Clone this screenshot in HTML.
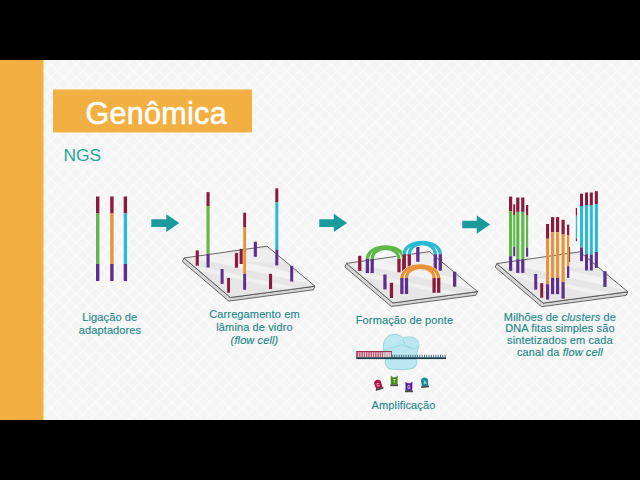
<!DOCTYPE html>
<html><head><meta charset="utf-8">
<style>
html,body{margin:0;padding:0;background:#000;}
body{width:640px;height:480px;overflow:hidden;position:relative;}
svg{position:absolute;left:0;top:0;}
text{font-family:"Liberation Sans",sans-serif;}
</style></head>
<body>
<svg width="640" height="480" viewBox="0 0 640 480">
<defs>
<pattern id="hatch" width="9" height="9" patternUnits="userSpaceOnUse" patternTransform="rotate(45)">
<rect width="9" height="9" fill="#f5f5f5"/>
<rect x="0" y="0" width="9" height="1.2" fill="#fbfbfb"/>
<rect x="0" y="0" width="1.2" height="9" fill="#fbfbfb"/>
</pattern>
</defs>
<rect x="0" y="0" width="640" height="480" fill="#000"/>
<rect x="0" y="60" width="640" height="360" fill="url(#hatch)"/>
<rect x="0" y="60" width="43.5" height="360" fill="#f1b041"/>
<rect x="53" y="89.5" width="199" height="43" fill="#f1b041"/>
<text x="85.5" y="123.7" font-size="30.5" letter-spacing="0.3" fill="#fff" stroke="#fff" stroke-width="0.55">Genômica</text>
<text x="63.5" y="161.1" font-size="17.4" fill="#26a69a">NGS</text>
<rect x="96.00" y="196.50" width="3.40" height="17.00" fill="#8c1a3c"/>
<rect x="96.00" y="213.50" width="3.40" height="50.50" fill="#5db847"/>
<rect x="96.00" y="264.00" width="3.40" height="17.00" fill="#5d2e8e"/>
<rect x="110.20" y="196.50" width="3.40" height="17.00" fill="#8c1a3c"/>
<rect x="110.20" y="213.50" width="3.40" height="50.50" fill="#e8923a"/>
<rect x="110.20" y="264.00" width="3.40" height="17.00" fill="#5d2e8e"/>
<rect x="123.70" y="196.50" width="3.40" height="17.00" fill="#8c1a3c"/>
<rect x="123.70" y="213.50" width="3.40" height="50.50" fill="#2bbad4"/>
<rect x="123.70" y="264.00" width="3.40" height="17.00" fill="#5d2e8e"/>
<polygon points="151.3,219.3 166.3,219.3 166.3,214.2 179.3,223.1 166.3,232 166.3,227 151.3,227" fill="#1b9a9e"/>
<polygon points="319.3,219.3 333.8,219.3 333.8,213.8 347,222.9 333.8,232 333.8,227 319.3,227" fill="#1b9a9e"/>
<polygon points="462.3,220.8 476.8,220.8 476.8,215.4 490.2,224.60000000000002 476.8,233.8 476.8,228.3 462.3,228.3" fill="#1b9a9e"/>
<polygon points="184.00,258.00 230.40,297.50 315.00,286.20 313.40,289.80 228.80,301.10 182.40,261.60" fill="#d6d6d6" stroke="#4d4d4d" stroke-width="0.85" stroke-linejoin="round"/>
<clipPath id="pc1"><polygon points="184.00,258.00 267.00,246.20 315.00,286.20 230.40,297.50"/></clipPath>
<polygon points="184.00,258.00 267.00,246.20 315.00,286.20 230.40,297.50" fill="#e6e6e6"/>
<g clip-path="url(#pc1)"><g transform="translate(0,0)">
<path d="M180,248 L300,250 L320,262 L180,262 Z" fill="#eeeeee"/>
<line x1="188" y1="253" x2="322" y2="283" stroke="#f2f2f2" stroke-width="7"/>
<line x1="200" y1="269" x2="322" y2="295" stroke="#f0f0f0" stroke-width="4"/>
</g></g>
<polygon points="184.00,258.00 267.00,246.20 315.00,286.20 230.40,297.50" fill="none" stroke="#4d4d4d" stroke-width="0.85" stroke-linejoin="round"/>
<rect x="253.80" y="241.70" width="3.10" height="15.10" fill="#5d2e8e"/>
<rect x="195.70" y="250.40" width="3.10" height="15.30" fill="#8c1a3c"/>
<rect x="239.60" y="249.00" width="3.10" height="15.00" fill="#8c1a3c"/>
<rect x="206.50" y="192.10" width="3.10" height="13.90" fill="#8c1a3c"/>
<rect x="206.50" y="206.00" width="3.10" height="48.00" fill="#5db847"/>
<rect x="206.50" y="254.00" width="3.10" height="13.50" fill="#5d2e8e"/>
<rect x="234.90" y="252.90" width="3.20" height="14.80" fill="#8c1a3c"/>
<rect x="275.30" y="188.30" width="3.00" height="14.20" fill="#8c1a3c"/>
<rect x="275.30" y="202.50" width="3.00" height="47.10" fill="#2bbad4"/>
<rect x="275.30" y="249.60" width="3.00" height="15.80" fill="#5d2e8e"/>
<rect x="220.60" y="269.00" width="3.00" height="14.80" fill="#5d2e8e"/>
<rect x="290.20" y="265.80" width="3.00" height="15.70" fill="#5d2e8e"/>
<rect x="269.00" y="273.80" width="3.10" height="15.20" fill="#8c1a3c"/>
<rect x="227.10" y="277.90" width="2.90" height="14.80" fill="#8c1a3c"/>
<rect x="243.20" y="212.70" width="2.90" height="14.80" fill="#8c1a3c"/>
<rect x="243.20" y="227.50" width="2.90" height="46.30" fill="#e8923a"/>
<rect x="243.20" y="273.80" width="2.90" height="16.00" fill="#5d2e8e"/>
<polygon points="346.50,263.40 392.90,302.90 477.50,291.60 475.90,295.20 391.30,306.50 344.90,267.00" fill="#d6d6d6" stroke="#4d4d4d" stroke-width="0.85" stroke-linejoin="round"/>
<clipPath id="pc2"><polygon points="346.50,263.40 429.50,251.60 477.50,291.60 392.90,302.90"/></clipPath>
<polygon points="346.50,263.40 429.50,251.60 477.50,291.60 392.90,302.90" fill="#e6e6e6"/>
<g clip-path="url(#pc2)"><g transform="translate(162.5,5.4)">
<path d="M180,248 L300,250 L320,262 L180,262 Z" fill="#eeeeee"/>
<line x1="188" y1="253" x2="322" y2="283" stroke="#f2f2f2" stroke-width="7"/>
<line x1="200" y1="269" x2="322" y2="295" stroke="#f0f0f0" stroke-width="4"/>
</g></g>
<polygon points="346.50,263.40 429.50,251.60 477.50,291.60 392.90,302.90" fill="none" stroke="#4d4d4d" stroke-width="0.85" stroke-linejoin="round"/>
<rect x="358.10" y="255.80" width="3.30" height="15.10" fill="#8c1a3c"/>
<rect x="416.20" y="247.00" width="3.30" height="14.80" fill="#5d2e8e"/>
<path d="M367.40,259.50 L367.40,259.00 C367.40,252.05 375.23,246.80 385.60,246.80 C395.97,246.80 403.80,252.05 403.80,259.00 L403.80,259.50" fill="none" stroke="#f6fbf6" stroke-width="4.3"/>
<path d="M372.20,259.50 L372.20,259.00 C372.20,252.96 377.96,248.40 385.60,248.40 C393.24,248.40 399.00,252.96 399.00,259.00 L399.00,259.50" fill="none" stroke="#f6fbf6" stroke-width="4.3"/>
<path d="M367.40,259.50 L367.40,259.00 C367.40,252.05 375.23,246.80 385.60,246.80 C395.97,246.80 403.80,252.05 403.80,259.00 L403.80,259.50" fill="none" stroke="#5db847" stroke-width="3.3"/>
<path d="M372.20,259.50 L372.20,259.00 C372.20,252.96 377.96,248.40 385.60,248.40 C393.24,248.40 399.00,252.96 399.00,259.00 L399.00,259.50" fill="none" stroke="#5db847" stroke-width="3.3"/>
<rect x="365.75" y="259.00" width="3.30" height="14.00" fill="#5d2e8e"/>
<rect x="402.15" y="259.00" width="3.30" height="13.30" fill="#8c1a3c"/>
<rect x="370.55" y="259.00" width="3.30" height="14.00" fill="#5d2e8e"/>
<rect x="397.35" y="259.00" width="3.30" height="13.30" fill="#8c1a3c"/>
<path d="M404.30,254.80 L404.30,254.30 C404.30,247.46 412.04,242.30 422.30,242.30 C432.56,242.30 440.30,247.46 440.30,254.30 L440.30,254.80" fill="none" stroke="#f6fbf6" stroke-width="4.3"/>
<path d="M409.30,254.80 L409.30,254.30 C409.30,248.26 414.89,243.70 422.30,243.70 C429.71,243.70 435.30,248.26 435.30,254.30 L435.30,254.80" fill="none" stroke="#f6fbf6" stroke-width="4.3"/>
<path d="M404.30,254.80 L404.30,254.30 C404.30,247.46 412.04,242.30 422.30,242.30 C432.56,242.30 440.30,247.46 440.30,254.30 L440.30,254.80" fill="none" stroke="#2bbad4" stroke-width="3.3"/>
<path d="M409.30,254.80 L409.30,254.30 C409.30,248.26 414.89,243.70 422.30,243.70 C429.71,243.70 435.30,248.26 435.30,254.30 L435.30,254.80" fill="none" stroke="#2bbad4" stroke-width="3.3"/>
<rect x="402.65" y="254.30" width="3.30" height="16.70" fill="#8c1a3c"/>
<rect x="438.65" y="254.30" width="3.30" height="16.40" fill="#5d2e8e"/>
<rect x="407.65" y="254.30" width="3.30" height="16.70" fill="#8c1a3c"/>
<rect x="433.65" y="254.30" width="3.30" height="16.40" fill="#5d2e8e"/>
<path d="M401.90,278.50 L401.90,278.00 C401.90,271.16 409.81,266.00 420.30,266.00 C430.79,266.00 438.70,271.16 438.70,278.00 L438.70,278.50" fill="none" stroke="#f6fbf6" stroke-width="4.3"/>
<path d="M406.50,278.50 L406.50,278.00 C406.50,271.96 412.43,267.40 420.30,267.40 C428.17,267.40 434.10,271.96 434.10,278.00 L434.10,278.50" fill="none" stroke="#f6fbf6" stroke-width="4.3"/>
<path d="M401.90,278.50 L401.90,278.00 C401.90,271.16 409.81,266.00 420.30,266.00 C430.79,266.00 438.70,271.16 438.70,278.00 L438.70,278.50" fill="none" stroke="#e8923a" stroke-width="3.3"/>
<path d="M406.50,278.50 L406.50,278.00 C406.50,271.96 412.43,267.40 420.30,267.40 C428.17,267.40 434.10,271.96 434.10,278.00 L434.10,278.50" fill="none" stroke="#e8923a" stroke-width="3.3"/>
<rect x="400.25" y="278.00" width="3.30" height="16.00" fill="#5d2e8e"/>
<rect x="437.05" y="278.00" width="3.30" height="14.80" fill="#8c1a3c"/>
<rect x="404.85" y="278.00" width="3.30" height="16.00" fill="#5d2e8e"/>
<rect x="432.45" y="278.00" width="3.30" height="14.80" fill="#8c1a3c"/>
<rect x="383.30" y="274.50" width="3.30" height="14.90" fill="#5d2e8e"/>
<rect x="389.80" y="282.80" width="3.30" height="15.20" fill="#8c1a3c"/>
<rect x="453.00" y="271.70" width="3.30" height="15.00" fill="#5d2e8e"/>
<path d="M383.8,351 C383,345 383.2,338.5 389.5,335.3 C395,333 400,334.8 403,338.3 C406,336.8 409.5,336.5 413,337.4 C418,338.8 419.5,343 418.6,347 C418.2,349.5 417.6,351 417,352.5 L416.6,357.6 L385,357.6 C384.2,355 383.9,353 383.8,351 Z" fill="#bae7ef" stroke="#88ccd9" stroke-width="0.8"/>
<path d="M386,358.9 L416,358.9 C417.6,362 417.2,367 412,368.6 C405,369.9 393,369.9 389,368.6 C385,367 384.5,362 386,358.9 Z" fill="#bae7ef" stroke="#88ccd9" stroke-width="0.8"/>
<path d="M403,338.5 C403.8,344.5 407.8,348.4 412.8,348.4 C415.6,348.4 417.6,347.6 418.4,346.2" fill="none" stroke="#95d3df" stroke-width="0.8"/>
<path d="M384.2,349.6 C390,348.3 397,346.8 402.2,344.6 C405,346.2 408,347.4 411.8,348.2" fill="none" stroke="#95d3df" stroke-width="0.8"/>
<path d="M386,340 C390,336 397,336 401,339 C397,343 390,346 385,347 Z" fill="#c0eaf2" opacity="0.8"/>
<g>
<rect x="356.60" y="351.30" width="26.90" height="6.20" fill="#bb5670"/>
<rect x="383.50" y="351.30" width="8.30" height="6.20" fill="#bb5670" opacity="0.5"/>
<rect x="358.30" y="352.30" width="0.85" height="5.20" fill="#fbeef0" opacity="0.95"/>
<rect x="360.58" y="352.30" width="0.85" height="5.20" fill="#fbeef0" opacity="0.95"/>
<rect x="362.86" y="352.30" width="0.85" height="5.20" fill="#fbeef0" opacity="0.95"/>
<rect x="365.14" y="352.30" width="0.85" height="5.20" fill="#fbeef0" opacity="0.95"/>
<rect x="367.42" y="352.30" width="0.85" height="5.20" fill="#fbeef0" opacity="0.95"/>
<rect x="369.70" y="352.30" width="0.85" height="5.20" fill="#fbeef0" opacity="0.95"/>
<rect x="371.98" y="352.30" width="0.85" height="5.20" fill="#fbeef0" opacity="0.95"/>
<rect x="374.26" y="352.30" width="0.85" height="5.20" fill="#fbeef0" opacity="0.95"/>
<rect x="376.54" y="352.30" width="0.85" height="5.20" fill="#fbeef0" opacity="0.95"/>
<rect x="378.82" y="352.30" width="0.85" height="5.20" fill="#fbeef0" opacity="0.95"/>
<rect x="381.10" y="352.30" width="0.85" height="5.20" fill="#fbeef0" opacity="0.95"/>
<rect x="383.38" y="352.30" width="0.85" height="5.20" fill="#fbeef0" opacity="0.95"/>
<rect x="385.66" y="352.30" width="0.85" height="5.20" fill="#fbeef0" opacity="0.95"/>
<rect x="387.94" y="352.30" width="0.85" height="5.20" fill="#fbeef0" opacity="0.95"/>
<rect x="390.22" y="352.30" width="0.85" height="5.20" fill="#fbeef0" opacity="0.95"/>
<rect x="356.60" y="351.00" width="35.20" height="1.00" fill="#973450"/>
<rect x="356.40" y="351.00" width="0.90" height="6.50" fill="#973450"/>
<rect x="391.20" y="351.00" width="0.80" height="6.50" fill="#973450"/>
</g>
<rect x="356.20" y="357.30" width="89.80" height="1.80" fill="#183c4c"/>
<rect x="391.80" y="354.80" width="0.90" height="3.00" fill="#2a5a6a"/>
<rect x="394.10" y="354.80" width="0.90" height="3.00" fill="#2a5a6a"/>
<rect x="396.40" y="354.80" width="0.90" height="3.00" fill="#2a5a6a"/>
<rect x="398.70" y="354.80" width="0.90" height="3.00" fill="#2a5a6a"/>
<rect x="401.00" y="354.80" width="0.90" height="3.00" fill="#2a5a6a"/>
<rect x="403.30" y="354.80" width="0.90" height="3.00" fill="#2a5a6a"/>
<rect x="405.60" y="354.80" width="0.90" height="3.00" fill="#2a5a6a"/>
<rect x="407.90" y="354.80" width="0.90" height="3.00" fill="#2a5a6a"/>
<rect x="410.20" y="354.80" width="0.90" height="3.00" fill="#2a5a6a"/>
<rect x="412.50" y="354.80" width="0.90" height="3.00" fill="#2a5a6a"/>
<rect x="414.80" y="354.80" width="0.90" height="3.00" fill="#2a5a6a"/>
<rect x="417.10" y="354.80" width="0.90" height="3.00" fill="#2a5a6a"/>
<rect x="419.40" y="354.80" width="0.90" height="3.00" fill="#2a5a6a"/>
<rect x="421.70" y="354.80" width="0.90" height="3.00" fill="#2a5a6a"/>
<rect x="424.00" y="354.80" width="0.90" height="3.00" fill="#2a5a6a"/>
<rect x="426.30" y="354.80" width="0.90" height="3.00" fill="#2a5a6a"/>
<rect x="428.60" y="354.80" width="0.90" height="3.00" fill="#2a5a6a"/>
<rect x="430.90" y="354.80" width="0.90" height="3.00" fill="#2a5a6a"/>
<rect x="433.20" y="354.80" width="0.90" height="3.00" fill="#2a5a6a"/>
<rect x="435.50" y="354.80" width="0.90" height="3.00" fill="#2a5a6a"/>
<rect x="437.80" y="354.80" width="0.90" height="3.00" fill="#2a5a6a"/>
<rect x="440.10" y="354.80" width="0.90" height="3.00" fill="#2a5a6a"/>
<rect x="442.40" y="354.80" width="0.90" height="3.00" fill="#2a5a6a"/>
<rect x="444.70" y="354.80" width="0.90" height="3.00" fill="#2a5a6a"/>
<g transform="translate(378.2,384.6) rotate(-18) scale(0.9,1.05)"><path d="M-3.6,3.6 L-3.9,-1.8 C-3.9,-5.6 3.9,-5.6 3.9,-1.8 L3.6,3.6 Z" fill="#b5134a"/><rect x="-4.4" y="3.4" width="8.8" height="1.7" fill="#4a4a4a"/><text x="0" y="1.8" font-size="4.6" fill="#e8e8e8" text-anchor="middle" font-weight="bold">C</text></g>
<g transform="translate(394.2,380.8) rotate(0) scale(0.9,1.05)"><path d="M-3.7,3.6 L-3.9,-5 L-1.6,-3.4 L1.6,-3.4 L3.9,-5 L3.7,3.6 Z" fill="#3f8c16"/><rect x="-4.4" y="3.4" width="8.8" height="1.7" fill="#4a4a4a"/><text x="0" y="1.8" font-size="4.6" fill="#e8e8e8" text-anchor="middle" font-weight="bold">T</text></g>
<g transform="translate(408.9,386.9) rotate(0) scale(0.9,1.05)"><path d="M-3.7,3.6 L-3.9,-5 L-1.6,-3.4 L1.6,-3.4 L3.9,-5 L3.7,3.6 Z" fill="#58189a"/><rect x="-4.4" y="3.4" width="8.8" height="1.7" fill="#4a4a4a"/><text x="0" y="1.8" font-size="4.6" fill="#e8e8e8" text-anchor="middle" font-weight="bold">G</text></g>
<g transform="translate(424.7,382.3) rotate(-6) scale(0.9,1.05)"><path d="M-3.6,3.6 L-3.9,-1.8 C-3.9,-5.6 3.9,-5.6 3.9,-1.8 L3.6,3.6 Z" fill="#198a9a"/><rect x="-4.4" y="3.4" width="8.8" height="1.7" fill="#4a4a4a"/><text x="0" y="1.8" font-size="4.6" fill="#e8e8e8" text-anchor="middle" font-weight="bold">A</text></g>
<polygon points="496.80,263.60 543.20,303.10 627.80,291.80 626.20,295.40 541.60,306.70 495.20,267.20" fill="#d6d6d6" stroke="#4d4d4d" stroke-width="0.85" stroke-linejoin="round"/>
<clipPath id="pc3"><polygon points="496.80,263.60 579.80,251.80 627.80,291.80 543.20,303.10"/></clipPath>
<polygon points="496.80,263.60 579.80,251.80 627.80,291.80 543.20,303.10" fill="#e6e6e6"/>
<g clip-path="url(#pc3)"><g transform="translate(312.8,5.6)">
<path d="M180,248 L300,250 L320,262 L180,262 Z" fill="#eeeeee"/>
<line x1="188" y1="253" x2="322" y2="283" stroke="#f2f2f2" stroke-width="7"/>
<line x1="200" y1="269" x2="322" y2="295" stroke="#f0f0f0" stroke-width="4"/>
</g></g>
<polygon points="496.80,263.60 579.80,251.80 627.80,291.80 543.20,303.10" fill="none" stroke="#4d4d4d" stroke-width="0.85" stroke-linejoin="round"/>
<rect x="513.20" y="204.40" width="2.00" height="10.60" fill="#8c1a3c"/>
<rect x="513.20" y="215.00" width="2.00" height="31.70" fill="#5db847"/>
<rect x="513.20" y="246.70" width="2.00" height="9.50" fill="#5d2e8e"/>
<rect x="526.00" y="205.00" width="2.20" height="10.60" fill="#8c1a3c"/>
<rect x="526.00" y="215.60" width="2.20" height="31.90" fill="#5db847"/>
<rect x="526.00" y="247.50" width="2.20" height="9.20" fill="#5d2e8e"/>
<rect x="509.00" y="196.60" width="3.20" height="14.60" fill="#8c1a3c"/>
<rect x="509.00" y="211.20" width="3.20" height="45.00" fill="#5db847"/>
<rect x="509.00" y="256.20" width="3.20" height="14.60" fill="#5d2e8e"/>
<rect x="516.20" y="197.50" width="3.20" height="14.40" fill="#8c1a3c"/>
<rect x="516.20" y="211.90" width="3.20" height="47.30" fill="#5db847"/>
<rect x="516.20" y="259.20" width="3.20" height="13.70" fill="#5d2e8e"/>
<rect x="521.20" y="197.50" width="3.20" height="14.40" fill="#8c1a3c"/>
<rect x="521.20" y="211.90" width="3.20" height="47.30" fill="#5db847"/>
<rect x="521.20" y="259.20" width="3.20" height="13.70" fill="#5d2e8e"/>
<rect x="575.80" y="208.00" width="1.30" height="7.80" fill="#8c1a3c"/>
<rect x="575.80" y="215.80" width="1.30" height="22.50" fill="#2bbad4"/>
<rect x="575.80" y="238.30" width="1.30" height="2.90" fill="#5d2e8e"/>
<rect x="580.00" y="193.70" width="3.00" height="12.30" fill="#8c1a3c"/>
<rect x="580.00" y="206.00" width="3.00" height="41.50" fill="#2bbad4"/>
<rect x="580.00" y="247.50" width="3.00" height="13.70" fill="#5d2e8e"/>
<rect x="585.00" y="192.50" width="3.00" height="12.50" fill="#8c1a3c"/>
<rect x="585.00" y="205.00" width="3.00" height="49.20" fill="#2bbad4"/>
<rect x="585.00" y="254.20" width="3.00" height="16.30" fill="#5d2e8e"/>
<rect x="589.80" y="192.50" width="3.00" height="12.50" fill="#8c1a3c"/>
<rect x="589.80" y="205.00" width="3.00" height="49.60" fill="#2bbad4"/>
<rect x="589.80" y="254.60" width="3.00" height="15.90" fill="#5d2e8e"/>
<rect x="594.80" y="191.20" width="3.10" height="12.80" fill="#8c1a3c"/>
<rect x="594.80" y="204.00" width="3.10" height="48.00" fill="#2bbad4"/>
<rect x="594.80" y="252.00" width="3.10" height="15.90" fill="#5d2e8e"/>
<rect x="568.80" y="247.00" width="1.30" height="15.00" fill="#8c1a3c"/>
<rect x="534.20" y="273.90" width="3.00" height="15.70" fill="#5d2e8e"/>
<rect x="603.30" y="271.20" width="3.30" height="15.70" fill="#5d2e8e"/>
<rect x="540.20" y="283.20" width="3.00" height="14.50" fill="#8c1a3c"/>
<rect x="567.00" y="224.60" width="2.30" height="10.40" fill="#8c1a3c"/>
<rect x="567.00" y="235.00" width="2.30" height="31.20" fill="#e8923a"/>
<rect x="567.00" y="266.20" width="2.30" height="11.70" fill="#5d2e8e"/>
<rect x="546.00" y="224.00" width="3.10" height="14.70" fill="#8c1a3c"/>
<rect x="546.00" y="238.70" width="3.10" height="45.50" fill="#e8923a"/>
<rect x="546.00" y="284.20" width="3.10" height="15.40" fill="#5d2e8e"/>
<rect x="551.00" y="217.10" width="3.20" height="15.00" fill="#8c1a3c"/>
<rect x="551.00" y="232.10" width="3.20" height="45.80" fill="#e8923a"/>
<rect x="551.00" y="277.90" width="3.20" height="16.30" fill="#5d2e8e"/>
<rect x="556.00" y="217.10" width="3.20" height="15.00" fill="#8c1a3c"/>
<rect x="556.00" y="232.10" width="3.20" height="45.80" fill="#e8923a"/>
<rect x="556.00" y="277.90" width="3.20" height="16.30" fill="#5d2e8e"/>
<rect x="561.50" y="219.80" width="3.20" height="14.80" fill="#8c1a3c"/>
<rect x="561.50" y="234.60" width="3.20" height="47.50" fill="#e8923a"/>
<rect x="561.50" y="282.10" width="3.20" height="16.60" fill="#5d2e8e"/>
<g fill="#1a8789" stroke="#1a8789" stroke-width="0.15" font-size="11" letter-spacing="0.12" text-anchor="middle">
<text x="109.8" y="320.8">Ligação de</text>
<text x="110" y="333.8">adaptadores</text>
<text x="254.5" y="317.8">Carregamento em</text>
<text x="254.5" y="330.8">lâmina de vidro</text>
<text x="254.5" y="343.8" font-style="italic">(flow cell)</text>
<text x="404.5" y="324.1">Formação de ponte</text>
<text x="403.5" y="409">Amplificação</text>
<text x="559.9" y="320.6">Milhões de <tspan font-style="italic">clusters</tspan> de</text>
<text x="559.9" y="332.4">DNA fitas simples são</text>
<text x="559.9" y="344.2">sintetizados em cada</text>
<text x="559.9" y="356.1">canal da <tspan font-style="italic">flow cell</tspan></text>
</g>
</svg>
</body></html>
